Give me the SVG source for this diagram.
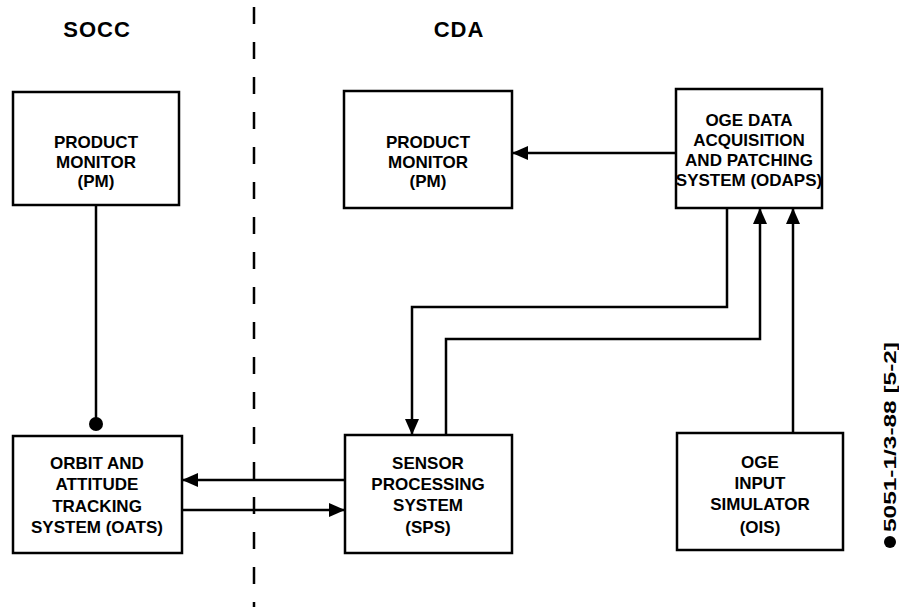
<svg xmlns="http://www.w3.org/2000/svg" width="899" height="607" viewBox="0 0 899 607">
<style>
.box{fill:#fff;stroke:#000;stroke-width:2.5}
.t{font-family:"Liberation Sans",Arial,sans-serif;font-weight:bold;font-size:17px;text-anchor:middle;fill:#000}
.h{font-family:"Liberation Sans",Arial,sans-serif;font-weight:bold;font-size:22px;text-anchor:middle;fill:#000;letter-spacing:1px}
.ln{fill:none;stroke:#000;stroke-width:2.5}
</style>
<defs>
<marker id="ah" markerWidth="16" markerHeight="14" refX="15" refY="7" orient="auto" markerUnits="userSpaceOnUse">
<path d="M0,0 L16,7 L0,14 Z" fill="#000"/>
</marker>
</defs>
<rect width="899" height="607" fill="#fff"/>
<line x1="254" y1="7" x2="254" y2="607" stroke="#000" stroke-width="2.5" stroke-dasharray="17 18"/>
<text class="h" x="97" y="37">SOCC</text>
<text class="h" x="459" y="37">CDA</text>
<g id="connectors">
<line class="ln" x1="96" y1="205" x2="96" y2="420"/>
<circle cx="96" cy="424" r="7" fill="#000"/>
<line class="ln" x1="676" y1="153" x2="513" y2="153" marker-end="url(#ah)"/>
<line class="ln" x1="345" y1="480" x2="183" y2="480" marker-end="url(#ah)"/>
<line class="ln" x1="182" y1="510" x2="344" y2="510" marker-end="url(#ah)"/>
<polyline class="ln" points="727,208 727,307 412,307 412,434" marker-end="url(#ah)"/>
<polyline class="ln" points="446,436 446,339 760,339 760,209" marker-end="url(#ah)"/>
<line class="ln" x1="793" y1="433" x2="793" y2="209" marker-end="url(#ah)"/>
</g>
<g id="pm-socc">
<rect class="box" x="13" y="92" width="166" height="113"/>
<text class="t" x="96" y="148">PRODUCT</text>
<text class="t" x="96" y="168">MONITOR</text>
<text class="t" x="96" y="187">(PM)</text>
</g>
<g id="pm-cda">
<rect class="box" x="344" y="91" width="168" height="117"/>
<text class="t" x="428" y="148">PRODUCT</text>
<text class="t" x="428" y="168">MONITOR</text>
<text class="t" x="428" y="187">(PM)</text>
</g>
<g id="odaps">
<rect class="box" x="676" y="89" width="146" height="119"/>
<text class="t" x="749" y="126">OGE DATA</text>
<text class="t" x="749" y="146">ACQUISITION</text>
<text class="t" x="749" y="166">AND PATCHING</text>
<text class="t" x="749" y="186">SYSTEM (ODAPS)</text>
</g>
<g id="oats">
<rect class="box" x="13" y="436" width="169" height="117"/>
<text class="t" x="97" y="469">ORBIT AND</text>
<text class="t" x="97" y="490">ATTITUDE</text>
<text class="t" x="97" y="512">TRACKING</text>
<text class="t" x="97" y="533">SYSTEM (OATS)</text>
</g>
<g id="sps">
<rect class="box" x="345" y="435" width="167" height="118"/>
<text class="t" x="428" y="469">SENSOR</text>
<text class="t" x="428" y="490">PROCESSING</text>
<text class="t" x="428" y="511">SYSTEM</text>
<text class="t" x="428" y="533">(SPS)</text>
</g>
<g id="ois">
<rect class="box" x="677" y="433" width="166" height="117"/>
<text class="t" x="760" y="468">OGE</text>
<text class="t" x="760" y="489">INPUT</text>
<text class="t" x="760" y="510">SIMULATOR</text>
<text class="t" x="760" y="533">(OIS)</text>
</g>
<g id="label">
<circle cx="890" cy="542" r="6" fill="#000"/>
<text x="0" y="0" transform="translate(896,532) rotate(-90)" font-family="Liberation Sans, Arial, sans-serif" font-weight="bold" font-size="16" textLength="190" lengthAdjust="spacingAndGlyphs">5051-1/3-88 [5-2]</text>
</g>
</svg>
